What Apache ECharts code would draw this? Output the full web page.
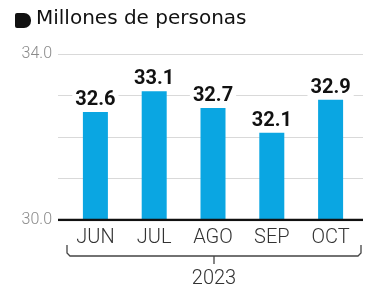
<!DOCTYPE html>
<html><head><meta charset="utf-8">
<script src="https://cdn.jsdelivr.net/npm/echarts@6/dist/echarts.min.js"></script>
<style>html,body{margin:0;padding:0;background:#fff}#c{width:382px;height:297px}</style>
</head><body><div id="c"></div>
<script>
const categories = ['JUN','JUL','AGO','SEP','OCT'];
const values = [32.6, 33.1, 32.7, 32.1, 32.9];
const yearLabel = '2023';
const unitTitle = 'Millones de personas';
const yMin = 30, yMax = 34;

const chart = echarts.init(document.getElementById('c'));
const fontFam = 'Roboto, "Noto Sans", sans-serif';
chart.setOption({
  animation: false,
  grid: [
    {left: 58, right: 19, top: 54, bottom: 77},
    {left: 66, right: 22, top: 54, bottom: 77}
  ],
  xAxis: [
    {gridIndex: 0, type: 'value', min: 0, max: 1, show: true,
     axisLine: {show: false}, axisTick: {show: false}, axisLabel: {show: false}, splitLine: {show: false}},
    {gridIndex: 1, type: 'category', data: categories,
     axisLine: {show: false}, axisTick: {show: false},
     axisLabel: {color: '#333', fontSize: 20, fontFamily: fontFam, fontWeight: 300, margin: 8}}
  ],
  yAxis: [
    {gridIndex: 0, type: 'value', min: yMin, max: yMax, interval: 1,
     axisLine: {show: false}, axisTick: {show: false},
     axisLabel: {color: '#8a8a8a', fontSize: 16, fontFamily: fontFam, fontWeight: 300, margin: 6,
       formatter: v => (v === yMin || v === yMax) ? v.toFixed(1) : ''},
     splitLine: {lineStyle: {color: '#d9d9d9', width: 1}}},
    {gridIndex: 1, type: 'value', min: yMin, max: yMax, interval: 1, show: false}
  ],
  series: [
    {type: 'bar', xAxisIndex: 1, yAxisIndex: 1, data: values, barWidth: 25,
     itemStyle: {color: '#0aa6e2'}, z: 3,
     label: {show: true, position: 'top', distance: 2, color: '#111', fontSize: 20,
       fontWeight: 'bold', fontFamily: fontFam, formatter: p => p.value.toFixed(1),
       backgroundColor: '#fff', padding: [0, 3]}},
    {type: 'line', xAxisIndex: 0, yAxisIndex: 0, data: [[0, yMin], [1, yMin]],
     symbol: 'none', lineStyle: {color: '#111', width: 2.5}, z: 5, silent: true}
  ]
});

function drawDecor() {
  const x0 = chart.convertToPixel({xAxisIndex: 1}, categories[0]);
  const x4 = chart.convertToPixel({xAxisIndex: 1}, categories[categories.length - 1]);
  const band = (x4 - x0) / (categories.length - 1);
  const left = x0 - band / 2 + 1, right = x4 + band / 2 + 1;
  const mid = (left + right) / 2;
  const yTop = 245, yB = 256;
  chart.setOption({
    graphic: [
      {type: 'polyline', shape: {points: [[left, yTop], [left, yB - 3], [left + 3, yB], [right - 3, yB], [right, yB - 3], [right, yTop]]},
        style: {stroke: '#444', lineWidth: 1.3, fill: null}},
      {type: 'line', shape: {x1: mid, y1: yB, x2: mid, y2: yB + 8}, style: {stroke: '#444', lineWidth: 1.3}},
      {type: 'text', x: mid, y: 269, style: {text: yearLabel, fill: '#333', fontSize: 20, fontWeight: 300, fontFamily: fontFam, textAlign: 'center', textVerticalAlign: 'top'}},
      {type: 'rect', shape: {x: 15, y: 13, width: 16, height: 15, r: [2, 7, 7, 2]}, style: {fill: '#111'}},
      {type: 'text', x: 36, y: 9, style: {text: unitTitle, fill: '#111', fontSize: 20, fontFamily: '"DejaVu Sans"', textVerticalAlign: 'top'}}
    ]
  });
}
drawDecor();
</script></body></html>
